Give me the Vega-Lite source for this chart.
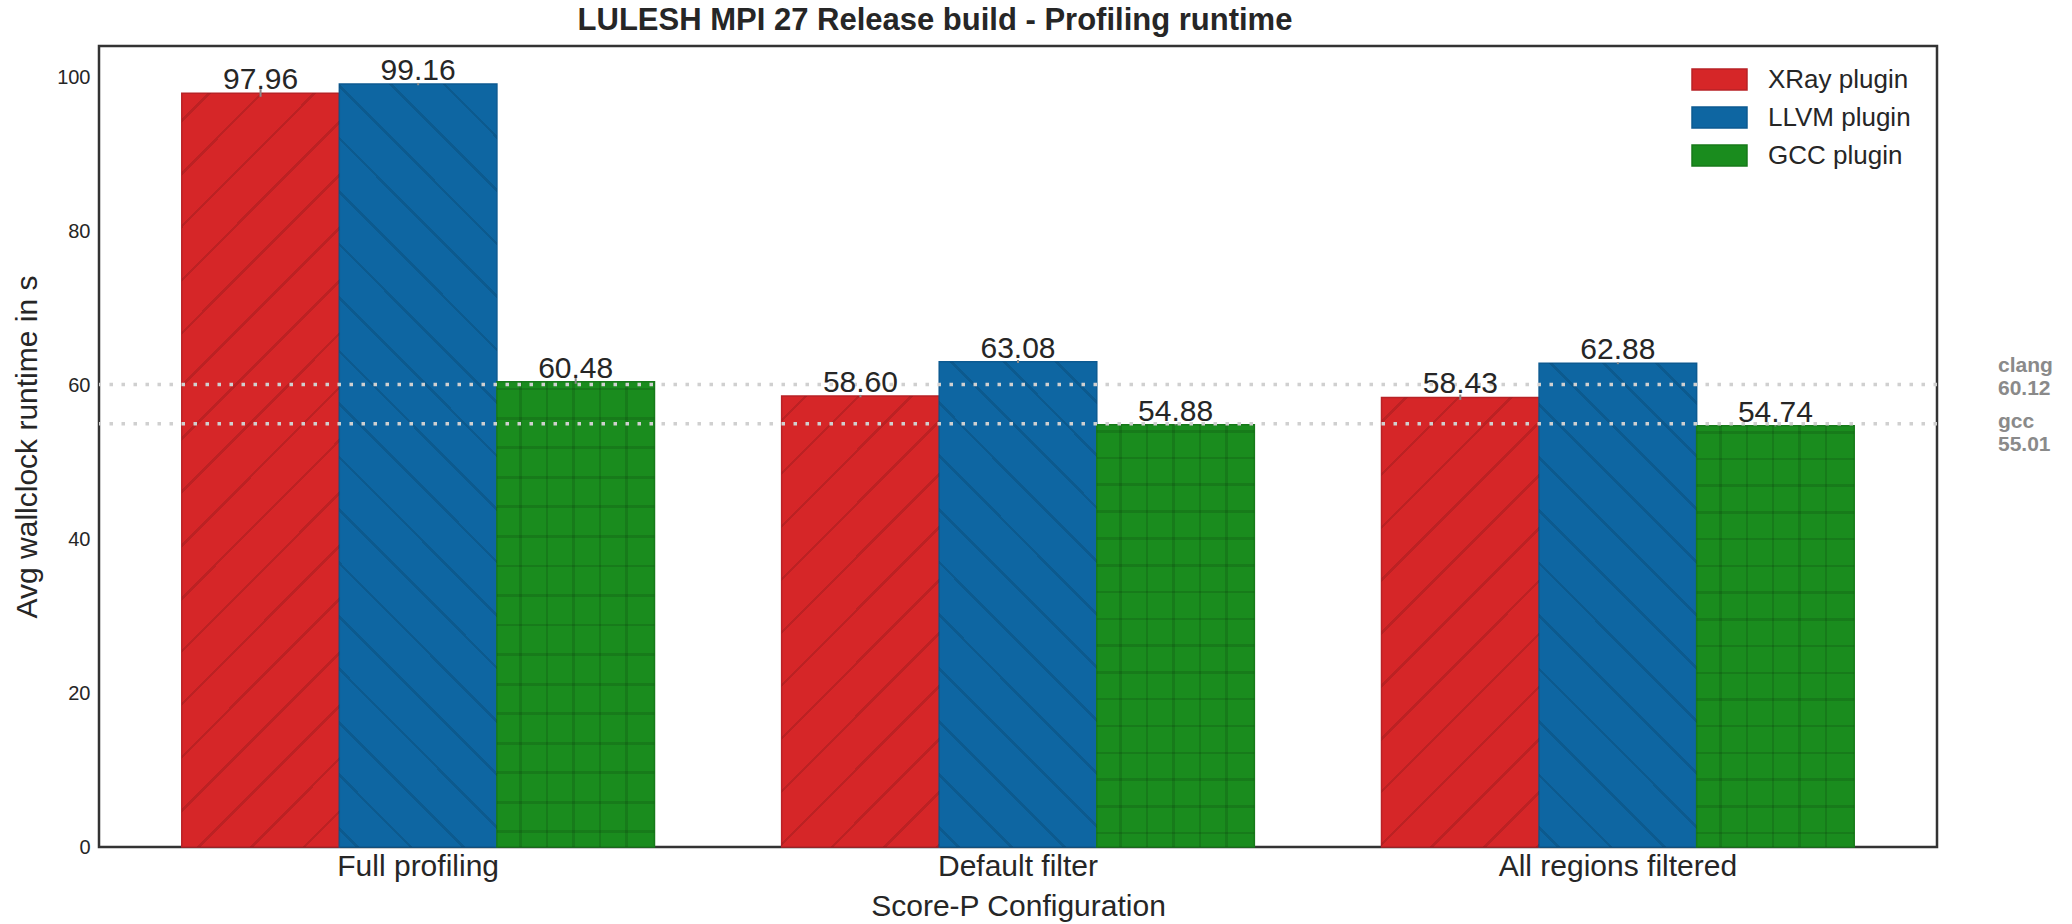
{
  "$schema": "https://vega.github.io/schema/vega-lite/v6.json",
  "width": 1838,
  "height": 801,
  "autosize": {"type": "none"},
  "padding": {"left": 99, "top": 46, "right": 135, "bottom": 77},
  "background": "white",
  "config": {
    "font": "Liberation Sans",
    "view": {"stroke": "#333333", "strokeWidth": 2.5},
    "axis": {"labelColor": "#262626", "titleColor": "#262626", "grid": false, "domain": false, "ticks": false, "titleFontWeight": "normal"}
  },
  "title": {
    "text": "LULESH MPI 27 Release build - Profiling runtime",
    "fontSize": 31,
    "fontWeight": "bold",
    "color": "#262626",
    "anchor": "middle",
    "dx": -83,
    "offset": 9
  },
  "datasets": {
    "runs": [
      {"config": "Full profiling", "plugin": "XRay plugin", "value": 97.96, "lo": 97.5, "hi": 98.5},
      {"config": "Full profiling", "plugin": "LLVM plugin", "value": 99.16, "lo": 99.0, "hi": 99.3},
      {"config": "Full profiling", "plugin": "GCC plugin", "value": 60.48, "lo": 60.2, "hi": 60.95},
      {"config": "Default filter", "plugin": "XRay plugin", "value": 58.6, "lo": 58.45, "hi": 58.75},
      {"config": "Default filter", "plugin": "LLVM plugin", "value": 63.08, "lo": 62.9, "hi": 63.3},
      {"config": "Default filter", "plugin": "GCC plugin", "value": 54.88, "lo": 54.8, "hi": 54.96},
      {"config": "All regions filtered", "plugin": "XRay plugin", "value": 58.43, "lo": 58.1, "hi": 58.8},
      {"config": "All regions filtered", "plugin": "LLVM plugin", "value": 62.88, "lo": 62.75, "hi": 63.0},
      {"config": "All regions filtered", "plugin": "GCC plugin", "value": 54.74, "lo": 54.66, "hi": 54.82}
    ],
    "refs": [
      {"compiler": "clang", "value": 60.12},
      {"compiler": "gcc", "value": 55.01}
    ]
  },
  "layer": [
    {
      "data": {"name": "runs"},
      "mark": {"type": "bar", "strokeWidth": 1.5},
      "encoding": {
        "x": {
          "field": "config", "type": "nominal",
          "sort": ["Full profiling", "Default filter", "All regions filtered"],
          "scale": {"paddingInner": 0.212, "paddingOuter": 0.138},
          "axis": {"title": "Score-P Configuration", "labelAngle": 0, "labelFontSize": 30, "labelPadding": 4, "labelLimit": 500, "titleFontSize": 30, "titlePadding": 10}
        },
        "xOffset": {
          "field": "plugin", "type": "nominal",
          "sort": ["XRay plugin", "LLVM plugin", "GCC plugin"],
          "scale": {"paddingInner": 0, "paddingOuter": 0}
        },
        "y": {
          "field": "value", "type": "quantitative",
          "scale": {"domain": [0, 104.1], "nice": false},
          "axis": {"title": "Avg wallclock runtime in s", "values": [0, 20, 40, 60, 80, 100], "labelFontSize": 20, "labelPadding": 9, "titleFontSize": 30, "titlePadding": 14}
        },
        "fill": {
          "field": "plugin", "type": "nominal",
          "sort": ["XRay plugin", "LLVM plugin", "GCC plugin"],
          "scale": {"domain": ["XRay plugin", "LLVM plugin", "GCC plugin"], "range": ["#d62628", "#0e66a2", "#1a8c1e"]},
          "legend": {
            "title": null,
            "orient": "none",
            "legendX": 1606,
            "legendY": 19,
            "padding": 0,
            "labelFontSize": 26,
            "labelColor": "#262626",
            "labelOffset": 34,
            "symbolType": "M-2,-0.764H2V0.764H-2Z",
            "symbolSize": 756,
            "symbolStrokeWidth": 1.5,
            "rowPadding": 9
          }
        },
        "stroke": {
          "field": "plugin", "type": "nominal",
          "sort": ["XRay plugin", "LLVM plugin", "GCC plugin"],
          "scale": {"domain": ["XRay plugin", "LLVM plugin", "GCC plugin"], "range": ["#b82226", "#0c5a91", "#177a1a"]},
          "legend": null
        }
      }
    },
    {
      "data": {"name": "runs"},
      "transform": [{"filter": "datum.plugin == 'XRay plugin' && datum.config != 'Full profiling'"}],
      "mark": {
        "type": "bar", "strokeWidth": 0,
        "fill": {
          "gradient": "linear", "x1": 0, "y1": 0, "x2": 0.422, "y2": 1.203,
          "stops": [
            {"offset": 0.037, "color": "rgba(0,0,0,0)"}, {"offset": 0.037, "color": "rgba(0,0,0,0.12)"}, {"offset": 0.043, "color": "rgba(0,0,0,0.12)"}, {"offset": 0.043, "color": "rgba(0,0,0,0)"},
            {"offset": 0.124, "color": "rgba(0,0,0,0)"}, {"offset": 0.124, "color": "rgba(0,0,0,0.12)"}, {"offset": 0.130, "color": "rgba(0,0,0,0.12)"}, {"offset": 0.130, "color": "rgba(0,0,0,0)"},
            {"offset": 0.211, "color": "rgba(0,0,0,0)"}, {"offset": 0.211, "color": "rgba(0,0,0,0.12)"}, {"offset": 0.217, "color": "rgba(0,0,0,0.12)"}, {"offset": 0.217, "color": "rgba(0,0,0,0)"},
            {"offset": 0.298, "color": "rgba(0,0,0,0)"}, {"offset": 0.298, "color": "rgba(0,0,0,0.12)"}, {"offset": 0.304, "color": "rgba(0,0,0,0.12)"}, {"offset": 0.304, "color": "rgba(0,0,0,0)"},
            {"offset": 0.385, "color": "rgba(0,0,0,0)"}, {"offset": 0.385, "color": "rgba(0,0,0,0.12)"}, {"offset": 0.391, "color": "rgba(0,0,0,0.12)"}, {"offset": 0.391, "color": "rgba(0,0,0,0)"},
            {"offset": 0.472, "color": "rgba(0,0,0,0)"}, {"offset": 0.472, "color": "rgba(0,0,0,0.12)"}, {"offset": 0.478, "color": "rgba(0,0,0,0.12)"}, {"offset": 0.478, "color": "rgba(0,0,0,0)"},
            {"offset": 0.559, "color": "rgba(0,0,0,0)"}, {"offset": 0.559, "color": "rgba(0,0,0,0.12)"}, {"offset": 0.565, "color": "rgba(0,0,0,0.12)"}, {"offset": 0.565, "color": "rgba(0,0,0,0)"},
            {"offset": 0.646, "color": "rgba(0,0,0,0)"}, {"offset": 0.646, "color": "rgba(0,0,0,0.12)"}, {"offset": 0.652, "color": "rgba(0,0,0,0.12)"}, {"offset": 0.652, "color": "rgba(0,0,0,0)"},
            {"offset": 0.733, "color": "rgba(0,0,0,0)"}, {"offset": 0.733, "color": "rgba(0,0,0,0.12)"}, {"offset": 0.739, "color": "rgba(0,0,0,0.12)"}, {"offset": 0.739, "color": "rgba(0,0,0,0)"},
            {"offset": 0.820, "color": "rgba(0,0,0,0)"}, {"offset": 0.820, "color": "rgba(0,0,0,0.12)"}, {"offset": 0.826, "color": "rgba(0,0,0,0.12)"}, {"offset": 0.826, "color": "rgba(0,0,0,0)"},
            {"offset": 0.907, "color": "rgba(0,0,0,0)"}, {"offset": 0.907, "color": "rgba(0,0,0,0.12)"}, {"offset": 0.913, "color": "rgba(0,0,0,0.12)"}, {"offset": 0.913, "color": "rgba(0,0,0,0)"},
            {"offset": 0.994, "color": "rgba(0,0,0,0)"}, {"offset": 0.994, "color": "rgba(0,0,0,0.12)"}, {"offset": 1.0, "color": "rgba(0,0,0,0.12)"}
          ]
        }
      },
      "encoding": {
        "x": {"field": "config", "type": "nominal", "sort": ["Full profiling", "Default filter", "All regions filtered"]},
        "xOffset": {"field": "plugin", "type": "nominal", "sort": ["XRay plugin", "LLVM plugin", "GCC plugin"]},
        "y": {"field": "value", "type": "quantitative"}
      }
    },
    {
      "data": {"name": "runs"},
      "transform": [{"filter": "datum.plugin == 'XRay plugin' && datum.config == 'Full profiling'"}],
      "mark": {
        "type": "bar", "strokeWidth": 0,
        "fill": {
          "gradient": "linear", "x1": 0, "y1": 0, "x2": 0.243, "y2": 1.159,
          "stops": [
            {"offset": 0.028, "color": "rgba(0,0,0,0)"}, {"offset": 0.028, "color": "rgba(0,0,0,0.12)"}, {"offset": 0.032, "color": "rgba(0,0,0,0.12)"}, {"offset": 0.032, "color": "rgba(0,0,0,0)"},
            {"offset": 0.086, "color": "rgba(0,0,0,0)"}, {"offset": 0.086, "color": "rgba(0,0,0,0.12)"}, {"offset": 0.090, "color": "rgba(0,0,0,0.12)"}, {"offset": 0.090, "color": "rgba(0,0,0,0)"},
            {"offset": 0.144, "color": "rgba(0,0,0,0)"}, {"offset": 0.144, "color": "rgba(0,0,0,0.12)"}, {"offset": 0.148, "color": "rgba(0,0,0,0.12)"}, {"offset": 0.148, "color": "rgba(0,0,0,0)"},
            {"offset": 0.203, "color": "rgba(0,0,0,0)"}, {"offset": 0.203, "color": "rgba(0,0,0,0.12)"}, {"offset": 0.207, "color": "rgba(0,0,0,0.12)"}, {"offset": 0.207, "color": "rgba(0,0,0,0)"},
            {"offset": 0.261, "color": "rgba(0,0,0,0)"}, {"offset": 0.261, "color": "rgba(0,0,0,0.12)"}, {"offset": 0.265, "color": "rgba(0,0,0,0.12)"}, {"offset": 0.265, "color": "rgba(0,0,0,0)"},
            {"offset": 0.319, "color": "rgba(0,0,0,0)"}, {"offset": 0.319, "color": "rgba(0,0,0,0.12)"}, {"offset": 0.323, "color": "rgba(0,0,0,0.12)"}, {"offset": 0.323, "color": "rgba(0,0,0,0)"},
            {"offset": 0.377, "color": "rgba(0,0,0,0)"}, {"offset": 0.377, "color": "rgba(0,0,0,0.12)"}, {"offset": 0.381, "color": "rgba(0,0,0,0.12)"}, {"offset": 0.381, "color": "rgba(0,0,0,0)"},
            {"offset": 0.435, "color": "rgba(0,0,0,0)"}, {"offset": 0.435, "color": "rgba(0,0,0,0.12)"}, {"offset": 0.439, "color": "rgba(0,0,0,0.12)"}, {"offset": 0.439, "color": "rgba(0,0,0,0)"},
            {"offset": 0.494, "color": "rgba(0,0,0,0)"}, {"offset": 0.494, "color": "rgba(0,0,0,0.12)"}, {"offset": 0.498, "color": "rgba(0,0,0,0.12)"}, {"offset": 0.498, "color": "rgba(0,0,0,0)"},
            {"offset": 0.552, "color": "rgba(0,0,0,0)"}, {"offset": 0.552, "color": "rgba(0,0,0,0.12)"}, {"offset": 0.556, "color": "rgba(0,0,0,0.12)"}, {"offset": 0.556, "color": "rgba(0,0,0,0)"},
            {"offset": 0.610, "color": "rgba(0,0,0,0)"}, {"offset": 0.610, "color": "rgba(0,0,0,0.12)"}, {"offset": 0.614, "color": "rgba(0,0,0,0.12)"}, {"offset": 0.614, "color": "rgba(0,0,0,0)"},
            {"offset": 0.668, "color": "rgba(0,0,0,0)"}, {"offset": 0.668, "color": "rgba(0,0,0,0.12)"}, {"offset": 0.672, "color": "rgba(0,0,0,0.12)"}, {"offset": 0.672, "color": "rgba(0,0,0,0)"},
            {"offset": 0.726, "color": "rgba(0,0,0,0)"}, {"offset": 0.726, "color": "rgba(0,0,0,0.12)"}, {"offset": 0.730, "color": "rgba(0,0,0,0.12)"}, {"offset": 0.730, "color": "rgba(0,0,0,0)"},
            {"offset": 0.785, "color": "rgba(0,0,0,0)"}, {"offset": 0.785, "color": "rgba(0,0,0,0.12)"}, {"offset": 0.789, "color": "rgba(0,0,0,0.12)"}, {"offset": 0.789, "color": "rgba(0,0,0,0)"},
            {"offset": 0.843, "color": "rgba(0,0,0,0)"}, {"offset": 0.843, "color": "rgba(0,0,0,0.12)"}, {"offset": 0.847, "color": "rgba(0,0,0,0.12)"}, {"offset": 0.847, "color": "rgba(0,0,0,0)"},
            {"offset": 0.901, "color": "rgba(0,0,0,0)"}, {"offset": 0.901, "color": "rgba(0,0,0,0.12)"}, {"offset": 0.905, "color": "rgba(0,0,0,0.12)"}, {"offset": 0.905, "color": "rgba(0,0,0,0)"},
            {"offset": 0.959, "color": "rgba(0,0,0,0)"}, {"offset": 0.959, "color": "rgba(0,0,0,0.12)"}, {"offset": 0.963, "color": "rgba(0,0,0,0.12)"}, {"offset": 0.963, "color": "rgba(0,0,0,0)"}
          ]
        }
      },
      "encoding": {
        "x": {"field": "config", "type": "nominal", "sort": ["Full profiling", "Default filter", "All regions filtered"]},
        "xOffset": {"field": "plugin", "type": "nominal", "sort": ["XRay plugin", "LLVM plugin", "GCC plugin"]},
        "y": {"field": "value", "type": "quantitative"}
      }
    },
    {
      "data": {"name": "runs"},
      "transform": [{"filter": "datum.plugin == 'LLVM plugin' && datum.config != 'Full profiling'"}],
      "mark": {
        "type": "bar", "strokeWidth": 0,
        "fill": {
          "gradient": "linear", "x1": 0, "y1": 1, "x2": 0.391, "y2": -0.2,
          "stops": [
            {"offset": 0.027, "color": "rgba(0,0,0,0)"}, {"offset": 0.027, "color": "rgba(0,0,0,0.12)"}, {"offset": 0.033, "color": "rgba(0,0,0,0.12)"}, {"offset": 0.033, "color": "rgba(0,0,0,0)"},
            {"offset": 0.109, "color": "rgba(0,0,0,0)"}, {"offset": 0.109, "color": "rgba(0,0,0,0.12)"}, {"offset": 0.115, "color": "rgba(0,0,0,0.12)"}, {"offset": 0.115, "color": "rgba(0,0,0,0)"},
            {"offset": 0.192, "color": "rgba(0,0,0,0)"}, {"offset": 0.192, "color": "rgba(0,0,0,0.12)"}, {"offset": 0.198, "color": "rgba(0,0,0,0.12)"}, {"offset": 0.198, "color": "rgba(0,0,0,0)"},
            {"offset": 0.274, "color": "rgba(0,0,0,0)"}, {"offset": 0.274, "color": "rgba(0,0,0,0.12)"}, {"offset": 0.280, "color": "rgba(0,0,0,0.12)"}, {"offset": 0.280, "color": "rgba(0,0,0,0)"},
            {"offset": 0.357, "color": "rgba(0,0,0,0)"}, {"offset": 0.357, "color": "rgba(0,0,0,0.12)"}, {"offset": 0.363, "color": "rgba(0,0,0,0.12)"}, {"offset": 0.363, "color": "rgba(0,0,0,0)"},
            {"offset": 0.439, "color": "rgba(0,0,0,0)"}, {"offset": 0.439, "color": "rgba(0,0,0,0.12)"}, {"offset": 0.445, "color": "rgba(0,0,0,0.12)"}, {"offset": 0.445, "color": "rgba(0,0,0,0)"},
            {"offset": 0.521, "color": "rgba(0,0,0,0)"}, {"offset": 0.521, "color": "rgba(0,0,0,0.12)"}, {"offset": 0.527, "color": "rgba(0,0,0,0.12)"}, {"offset": 0.527, "color": "rgba(0,0,0,0)"},
            {"offset": 0.604, "color": "rgba(0,0,0,0)"}, {"offset": 0.604, "color": "rgba(0,0,0,0.12)"}, {"offset": 0.610, "color": "rgba(0,0,0,0.12)"}, {"offset": 0.610, "color": "rgba(0,0,0,0)"},
            {"offset": 0.686, "color": "rgba(0,0,0,0)"}, {"offset": 0.686, "color": "rgba(0,0,0,0.12)"}, {"offset": 0.692, "color": "rgba(0,0,0,0.12)"}, {"offset": 0.692, "color": "rgba(0,0,0,0)"},
            {"offset": 0.769, "color": "rgba(0,0,0,0)"}, {"offset": 0.769, "color": "rgba(0,0,0,0.12)"}, {"offset": 0.775, "color": "rgba(0,0,0,0.12)"}, {"offset": 0.775, "color": "rgba(0,0,0,0)"},
            {"offset": 0.851, "color": "rgba(0,0,0,0)"}, {"offset": 0.851, "color": "rgba(0,0,0,0.12)"}, {"offset": 0.857, "color": "rgba(0,0,0,0.12)"}, {"offset": 0.857, "color": "rgba(0,0,0,0)"},
            {"offset": 0.933, "color": "rgba(0,0,0,0)"}, {"offset": 0.933, "color": "rgba(0,0,0,0.12)"}, {"offset": 0.939, "color": "rgba(0,0,0,0.12)"}, {"offset": 0.939, "color": "rgba(0,0,0,0)"}
          ]
        }
      },
      "encoding": {
        "x": {"field": "config", "type": "nominal", "sort": ["Full profiling", "Default filter", "All regions filtered"]},
        "xOffset": {"field": "plugin", "type": "nominal", "sort": ["XRay plugin", "LLVM plugin", "GCC plugin"]},
        "y": {"field": "value", "type": "quantitative"}
      }
    },
    {
      "data": {"name": "runs"},
      "transform": [{"filter": "datum.plugin == 'LLVM plugin' && datum.config == 'Full profiling'"}],
      "mark": {
        "type": "bar", "strokeWidth": 0,
        "fill": {
          "gradient": "linear", "x1": 0, "y1": 1, "x2": 0.24, "y2": -0.158,
          "stops": [
            {"offset": 0.018, "color": "rgba(0,0,0,0)"}, {"offset": 0.018, "color": "rgba(0,0,0,0.12)"}, {"offset": 0.022, "color": "rgba(0,0,0,0.12)"}, {"offset": 0.022, "color": "rgba(0,0,0,0)"},
            {"offset": 0.076, "color": "rgba(0,0,0,0)"}, {"offset": 0.076, "color": "rgba(0,0,0,0.12)"}, {"offset": 0.080, "color": "rgba(0,0,0,0.12)"}, {"offset": 0.080, "color": "rgba(0,0,0,0)"},
            {"offset": 0.133, "color": "rgba(0,0,0,0)"}, {"offset": 0.133, "color": "rgba(0,0,0,0.12)"}, {"offset": 0.137, "color": "rgba(0,0,0,0.12)"}, {"offset": 0.137, "color": "rgba(0,0,0,0)"},
            {"offset": 0.191, "color": "rgba(0,0,0,0)"}, {"offset": 0.191, "color": "rgba(0,0,0,0.12)"}, {"offset": 0.195, "color": "rgba(0,0,0,0.12)"}, {"offset": 0.195, "color": "rgba(0,0,0,0)"},
            {"offset": 0.248, "color": "rgba(0,0,0,0)"}, {"offset": 0.248, "color": "rgba(0,0,0,0.12)"}, {"offset": 0.252, "color": "rgba(0,0,0,0.12)"}, {"offset": 0.252, "color": "rgba(0,0,0,0)"},
            {"offset": 0.306, "color": "rgba(0,0,0,0)"}, {"offset": 0.306, "color": "rgba(0,0,0,0.12)"}, {"offset": 0.310, "color": "rgba(0,0,0,0.12)"}, {"offset": 0.310, "color": "rgba(0,0,0,0)"},
            {"offset": 0.364, "color": "rgba(0,0,0,0)"}, {"offset": 0.364, "color": "rgba(0,0,0,0.12)"}, {"offset": 0.368, "color": "rgba(0,0,0,0.12)"}, {"offset": 0.368, "color": "rgba(0,0,0,0)"},
            {"offset": 0.421, "color": "rgba(0,0,0,0)"}, {"offset": 0.421, "color": "rgba(0,0,0,0.12)"}, {"offset": 0.425, "color": "rgba(0,0,0,0.12)"}, {"offset": 0.425, "color": "rgba(0,0,0,0)"},
            {"offset": 0.479, "color": "rgba(0,0,0,0)"}, {"offset": 0.479, "color": "rgba(0,0,0,0.12)"}, {"offset": 0.483, "color": "rgba(0,0,0,0.12)"}, {"offset": 0.483, "color": "rgba(0,0,0,0)"},
            {"offset": 0.536, "color": "rgba(0,0,0,0)"}, {"offset": 0.536, "color": "rgba(0,0,0,0.12)"}, {"offset": 0.540, "color": "rgba(0,0,0,0.12)"}, {"offset": 0.540, "color": "rgba(0,0,0,0)"},
            {"offset": 0.594, "color": "rgba(0,0,0,0)"}, {"offset": 0.594, "color": "rgba(0,0,0,0.12)"}, {"offset": 0.598, "color": "rgba(0,0,0,0.12)"}, {"offset": 0.598, "color": "rgba(0,0,0,0)"},
            {"offset": 0.652, "color": "rgba(0,0,0,0)"}, {"offset": 0.652, "color": "rgba(0,0,0,0.12)"}, {"offset": 0.656, "color": "rgba(0,0,0,0.12)"}, {"offset": 0.656, "color": "rgba(0,0,0,0)"},
            {"offset": 0.709, "color": "rgba(0,0,0,0)"}, {"offset": 0.709, "color": "rgba(0,0,0,0.12)"}, {"offset": 0.713, "color": "rgba(0,0,0,0.12)"}, {"offset": 0.713, "color": "rgba(0,0,0,0)"},
            {"offset": 0.767, "color": "rgba(0,0,0,0)"}, {"offset": 0.767, "color": "rgba(0,0,0,0.12)"}, {"offset": 0.771, "color": "rgba(0,0,0,0.12)"}, {"offset": 0.771, "color": "rgba(0,0,0,0)"},
            {"offset": 0.824, "color": "rgba(0,0,0,0)"}, {"offset": 0.824, "color": "rgba(0,0,0,0.12)"}, {"offset": 0.828, "color": "rgba(0,0,0,0.12)"}, {"offset": 0.828, "color": "rgba(0,0,0,0)"},
            {"offset": 0.882, "color": "rgba(0,0,0,0)"}, {"offset": 0.882, "color": "rgba(0,0,0,0.12)"}, {"offset": 0.886, "color": "rgba(0,0,0,0.12)"}, {"offset": 0.886, "color": "rgba(0,0,0,0)"},
            {"offset": 0.940, "color": "rgba(0,0,0,0)"}, {"offset": 0.940, "color": "rgba(0,0,0,0.12)"}, {"offset": 0.944, "color": "rgba(0,0,0,0.12)"}, {"offset": 0.944, "color": "rgba(0,0,0,0)"}
          ]
        }
      },
      "encoding": {
        "x": {"field": "config", "type": "nominal", "sort": ["Full profiling", "Default filter", "All regions filtered"]},
        "xOffset": {"field": "plugin", "type": "nominal", "sort": ["XRay plugin", "LLVM plugin", "GCC plugin"]},
        "y": {"field": "value", "type": "quantitative"}
      }
    },
    {
      "data": {"name": "runs"},
      "transform": [{"filter": "datum.plugin == 'GCC plugin'"}],
      "mark": {
        "type": "bar", "strokeWidth": 0,
        "fill": {
          "gradient": "linear", "x1": 0, "y1": 0, "x2": 1, "y2": 0,
          "stops": [
            {"offset": 0.143, "color": "rgba(0,0,0,0)"}, {"offset": 0.143, "color": "rgba(0,0,0,0.12)"}, {"offset": 0.159, "color": "rgba(0,0,0,0.12)"}, {"offset": 0.159, "color": "rgba(0,0,0,0)"},
            {"offset": 0.311, "color": "rgba(0,0,0,0)"}, {"offset": 0.311, "color": "rgba(0,0,0,0.12)"}, {"offset": 0.327, "color": "rgba(0,0,0,0.12)"}, {"offset": 0.327, "color": "rgba(0,0,0,0)"},
            {"offset": 0.478, "color": "rgba(0,0,0,0)"}, {"offset": 0.478, "color": "rgba(0,0,0,0.12)"}, {"offset": 0.494, "color": "rgba(0,0,0,0.12)"}, {"offset": 0.494, "color": "rgba(0,0,0,0)"},
            {"offset": 0.646, "color": "rgba(0,0,0,0)"}, {"offset": 0.646, "color": "rgba(0,0,0,0.12)"}, {"offset": 0.662, "color": "rgba(0,0,0,0.12)"}, {"offset": 0.662, "color": "rgba(0,0,0,0)"},
            {"offset": 0.814, "color": "rgba(0,0,0,0)"}, {"offset": 0.814, "color": "rgba(0,0,0,0.12)"}, {"offset": 0.830, "color": "rgba(0,0,0,0.12)"}, {"offset": 0.830, "color": "rgba(0,0,0,0)"}
          ]
        }
      },
      "encoding": {
        "x": {"field": "config", "type": "nominal", "sort": ["Full profiling", "Default filter", "All regions filtered"]},
        "xOffset": {"field": "plugin", "type": "nominal", "sort": ["XRay plugin", "LLVM plugin", "GCC plugin"]},
        "y": {"field": "value", "type": "quantitative"}
      }
    },
    {
      "data": {"name": "runs"},
      "transform": [{"filter": "datum.plugin == 'GCC plugin'"}],
      "mark": {
        "type": "bar", "strokeWidth": 0,
        "fill": {
          "gradient": "linear", "x1": 0, "y1": 0, "x2": 0, "y2": 1,
          "stops": [
            {"offset": 0.013, "color": "rgba(0,0,0,0)"}, {"offset": 0.013, "color": "rgba(0,0,0,0.12)"}, {"offset": 0.019, "color": "rgba(0,0,0,0.12)"}, {"offset": 0.019, "color": "rgba(0,0,0,0)"},
            {"offset": 0.076, "color": "rgba(0,0,0,0)"}, {"offset": 0.076, "color": "rgba(0,0,0,0.12)"}, {"offset": 0.082, "color": "rgba(0,0,0,0.12)"}, {"offset": 0.082, "color": "rgba(0,0,0,0)"},
            {"offset": 0.139, "color": "rgba(0,0,0,0)"}, {"offset": 0.139, "color": "rgba(0,0,0,0.12)"}, {"offset": 0.145, "color": "rgba(0,0,0,0.12)"}, {"offset": 0.145, "color": "rgba(0,0,0,0)"},
            {"offset": 0.203, "color": "rgba(0,0,0,0)"}, {"offset": 0.203, "color": "rgba(0,0,0,0.12)"}, {"offset": 0.209, "color": "rgba(0,0,0,0.12)"}, {"offset": 0.209, "color": "rgba(0,0,0,0)"},
            {"offset": 0.266, "color": "rgba(0,0,0,0)"}, {"offset": 0.266, "color": "rgba(0,0,0,0.12)"}, {"offset": 0.272, "color": "rgba(0,0,0,0.12)"}, {"offset": 0.272, "color": "rgba(0,0,0,0)"},
            {"offset": 0.330, "color": "rgba(0,0,0,0)"}, {"offset": 0.330, "color": "rgba(0,0,0,0.12)"}, {"offset": 0.336, "color": "rgba(0,0,0,0.12)"}, {"offset": 0.336, "color": "rgba(0,0,0,0)"},
            {"offset": 0.393, "color": "rgba(0,0,0,0)"}, {"offset": 0.393, "color": "rgba(0,0,0,0.12)"}, {"offset": 0.399, "color": "rgba(0,0,0,0.12)"}, {"offset": 0.399, "color": "rgba(0,0,0,0)"},
            {"offset": 0.457, "color": "rgba(0,0,0,0)"}, {"offset": 0.457, "color": "rgba(0,0,0,0.12)"}, {"offset": 0.463, "color": "rgba(0,0,0,0.12)"}, {"offset": 0.463, "color": "rgba(0,0,0,0)"},
            {"offset": 0.520, "color": "rgba(0,0,0,0)"}, {"offset": 0.520, "color": "rgba(0,0,0,0.12)"}, {"offset": 0.526, "color": "rgba(0,0,0,0.12)"}, {"offset": 0.526, "color": "rgba(0,0,0,0)"},
            {"offset": 0.584, "color": "rgba(0,0,0,0)"}, {"offset": 0.584, "color": "rgba(0,0,0,0.12)"}, {"offset": 0.590, "color": "rgba(0,0,0,0.12)"}, {"offset": 0.590, "color": "rgba(0,0,0,0)"},
            {"offset": 0.647, "color": "rgba(0,0,0,0)"}, {"offset": 0.647, "color": "rgba(0,0,0,0.12)"}, {"offset": 0.653, "color": "rgba(0,0,0,0.12)"}, {"offset": 0.653, "color": "rgba(0,0,0,0)"},
            {"offset": 0.710, "color": "rgba(0,0,0,0)"}, {"offset": 0.710, "color": "rgba(0,0,0,0.12)"}, {"offset": 0.716, "color": "rgba(0,0,0,0.12)"}, {"offset": 0.716, "color": "rgba(0,0,0,0)"},
            {"offset": 0.774, "color": "rgba(0,0,0,0)"}, {"offset": 0.774, "color": "rgba(0,0,0,0.12)"}, {"offset": 0.780, "color": "rgba(0,0,0,0.12)"}, {"offset": 0.780, "color": "rgba(0,0,0,0)"},
            {"offset": 0.837, "color": "rgba(0,0,0,0)"}, {"offset": 0.837, "color": "rgba(0,0,0,0.12)"}, {"offset": 0.843, "color": "rgba(0,0,0,0.12)"}, {"offset": 0.843, "color": "rgba(0,0,0,0)"},
            {"offset": 0.901, "color": "rgba(0,0,0,0)"}, {"offset": 0.901, "color": "rgba(0,0,0,0.12)"}, {"offset": 0.907, "color": "rgba(0,0,0,0.12)"}, {"offset": 0.907, "color": "rgba(0,0,0,0)"},
            {"offset": 0.964, "color": "rgba(0,0,0,0)"}, {"offset": 0.964, "color": "rgba(0,0,0,0.12)"}, {"offset": 0.970, "color": "rgba(0,0,0,0.12)"}, {"offset": 0.970, "color": "rgba(0,0,0,0)"}
          ]
        }
      },
      "encoding": {
        "x": {"field": "config", "type": "nominal", "sort": ["Full profiling", "Default filter", "All regions filtered"]},
        "xOffset": {"field": "plugin", "type": "nominal", "sort": ["XRay plugin", "LLVM plugin", "GCC plugin"]},
        "y": {"field": "value", "type": "quantitative"}
      }
    },
    {
      "data": {"name": "runs"},
      "mark": {"type": "rule", "color": "#8a8a8a", "strokeWidth": 2},
      "encoding": {
        "x": {"field": "config", "type": "nominal", "sort": ["Full profiling", "Default filter", "All regions filtered"]},
        "xOffset": {"field": "plugin", "type": "nominal", "sort": ["XRay plugin", "LLVM plugin", "GCC plugin"]},
        "y": {"field": "lo", "type": "quantitative"},
        "y2": {"field": "hi"}
      }
    },
    {
      "data": {"name": "refs"},
      "mark": {"type": "rule", "color": "#d0d0d0", "strokeWidth": 3.5, "strokeDash": [3.5, 8.5]},
      "encoding": {
        "y": {"field": "value", "type": "quantitative"}
      }
    },
    {
      "data": {"name": "runs"},
      "mark": {"type": "text", "fontSize": 30, "color": "#262626", "baseline": "alphabetic", "dy": -4},
      "encoding": {
        "x": {"field": "config", "type": "nominal", "sort": ["Full profiling", "Default filter", "All regions filtered"]},
        "xOffset": {"field": "plugin", "type": "nominal", "sort": ["XRay plugin", "LLVM plugin", "GCC plugin"]},
        "y": {"field": "value", "type": "quantitative"},
        "text": {"field": "value", "type": "quantitative", "format": ".2f"}
      }
    },
    {
      "data": {"name": "refs"},
      "transform": [
        {"filter": "datum.compiler == 'clang'"},
        {"calculate": "[datum.compiler, format(datum.value, '.2f')]", "as": "label"}
      ],
      "mark": {"type": "text", "fontSize": 21, "fontWeight": "bold", "color": "#8a8a8a", "align": "left", "baseline": "middle", "lineHeight": 23, "dx": 61, "dy": -18},
      "encoding": {
        "x": {"value": "width"},
        "y": {"field": "value", "type": "quantitative"},
        "text": {"field": "label"}
      }
    },
    {
      "data": {"name": "refs"},
      "transform": [
        {"filter": "datum.compiler == 'gcc'"},
        {"calculate": "[datum.compiler, format(datum.value, '.2f')]", "as": "label"}
      ],
      "mark": {"type": "text", "fontSize": 21, "fontWeight": "bold", "color": "#8a8a8a", "align": "left", "baseline": "middle", "lineHeight": 23, "dx": 61, "dy": -2},
      "encoding": {
        "x": {"value": "width"},
        "y": {"field": "value", "type": "quantitative"},
        "text": {"field": "label"}
      }
    }
  ]
}
